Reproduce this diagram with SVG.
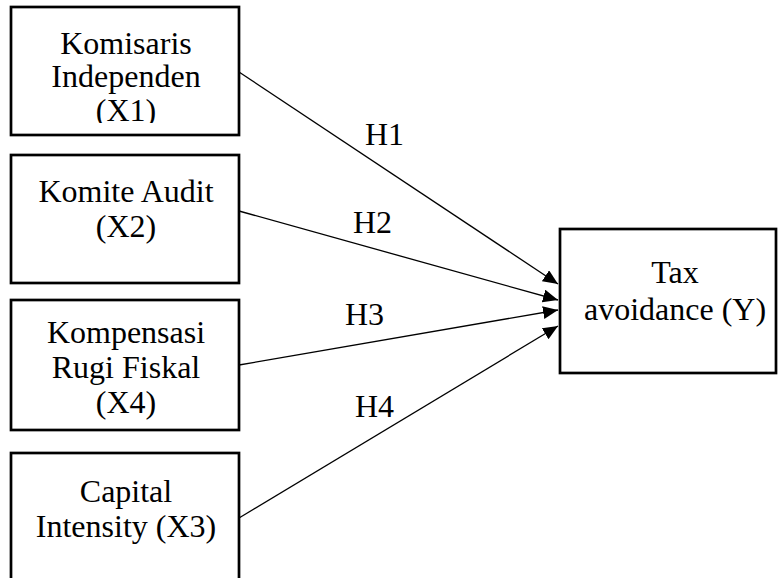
<svg xmlns="http://www.w3.org/2000/svg" width="778" height="578" viewBox="0 0 778 578">
<style>
.box{fill:#fff;stroke:#000;stroke-width:2.7}
.t{font-family:"Liberation Serif","Times New Roman",serif;font-size:32px;fill:#000;text-anchor:middle}
.lbl{font-family:"Liberation Serif","Times New Roman",serif;font-size:32px;fill:#000}
.c{stroke:#000;stroke-width:1.3;fill:none}
</style>
<defs>
<marker id="ah" markerUnits="userSpaceOnUse" markerWidth="16" markerHeight="14" refX="15" refY="6.5" orient="auto">
<path d="M0,0 L15,6.5 L0,13 z" fill="#000"/>
</marker>
<clipPath id="clip1"><rect x="0" y="0" width="260" height="123"/></clipPath>
</defs>
<rect x="0" y="0" width="778" height="578" fill="#fff"/>
<g id="connectors">
<line class="c" x1="239" y1="72" x2="558" y2="284" marker-end="url(#ah)"/>
<line class="c" x1="239" y1="211" x2="558" y2="300" marker-end="url(#ah)"/>
<line class="c" x1="239" y1="365" x2="558" y2="310" marker-end="url(#ah)"/>
<line class="c" x1="239" y1="518" x2="558" y2="326" marker-end="url(#ah)"/>
<text class="lbl" x="365" y="145">H1</text>
<text class="lbl" x="353" y="233">H2</text>
<text class="lbl" x="345" y="325">H3</text>
<text class="lbl" x="355" y="417">H4</text>
</g>
<g id="x1">
<rect class="box" x="11" y="7" width="228" height="128"/>
<text class="t" x="126" y="54">Komisaris</text>
<text class="t" x="126" y="87">Independen</text>
<text class="t" x="126" y="121" clip-path="url(#clip1)">(X1)</text>
</g>
<g id="x2">
<rect class="box" x="11" y="155" width="228" height="128"/>
<text class="t" x="126" y="202">Komite Audit</text>
<text class="t" x="126" y="237">(X2)</text>
</g>
<g id="x4">
<rect class="box" x="11" y="300" width="228" height="130"/>
<text class="t" x="126" y="343">Kompensasi</text>
<text class="t" x="126" y="378">Rugi Fiskal</text>
<text class="t" x="126" y="413">(X4)</text>
</g>
<g id="x3">
<rect class="box" x="11" y="453" width="228" height="160"/>
<text class="t" x="126" y="502">Capital</text>
<text class="t" x="126" y="537">Intensity (X3)</text>
</g>
<g id="y">
<rect class="box" x="560" y="229" width="216" height="144"/>
<text class="t" x="675" y="283">Tax</text>
<text class="t" x="675" y="320">avoidance (Y)</text>
</g>
</svg>
